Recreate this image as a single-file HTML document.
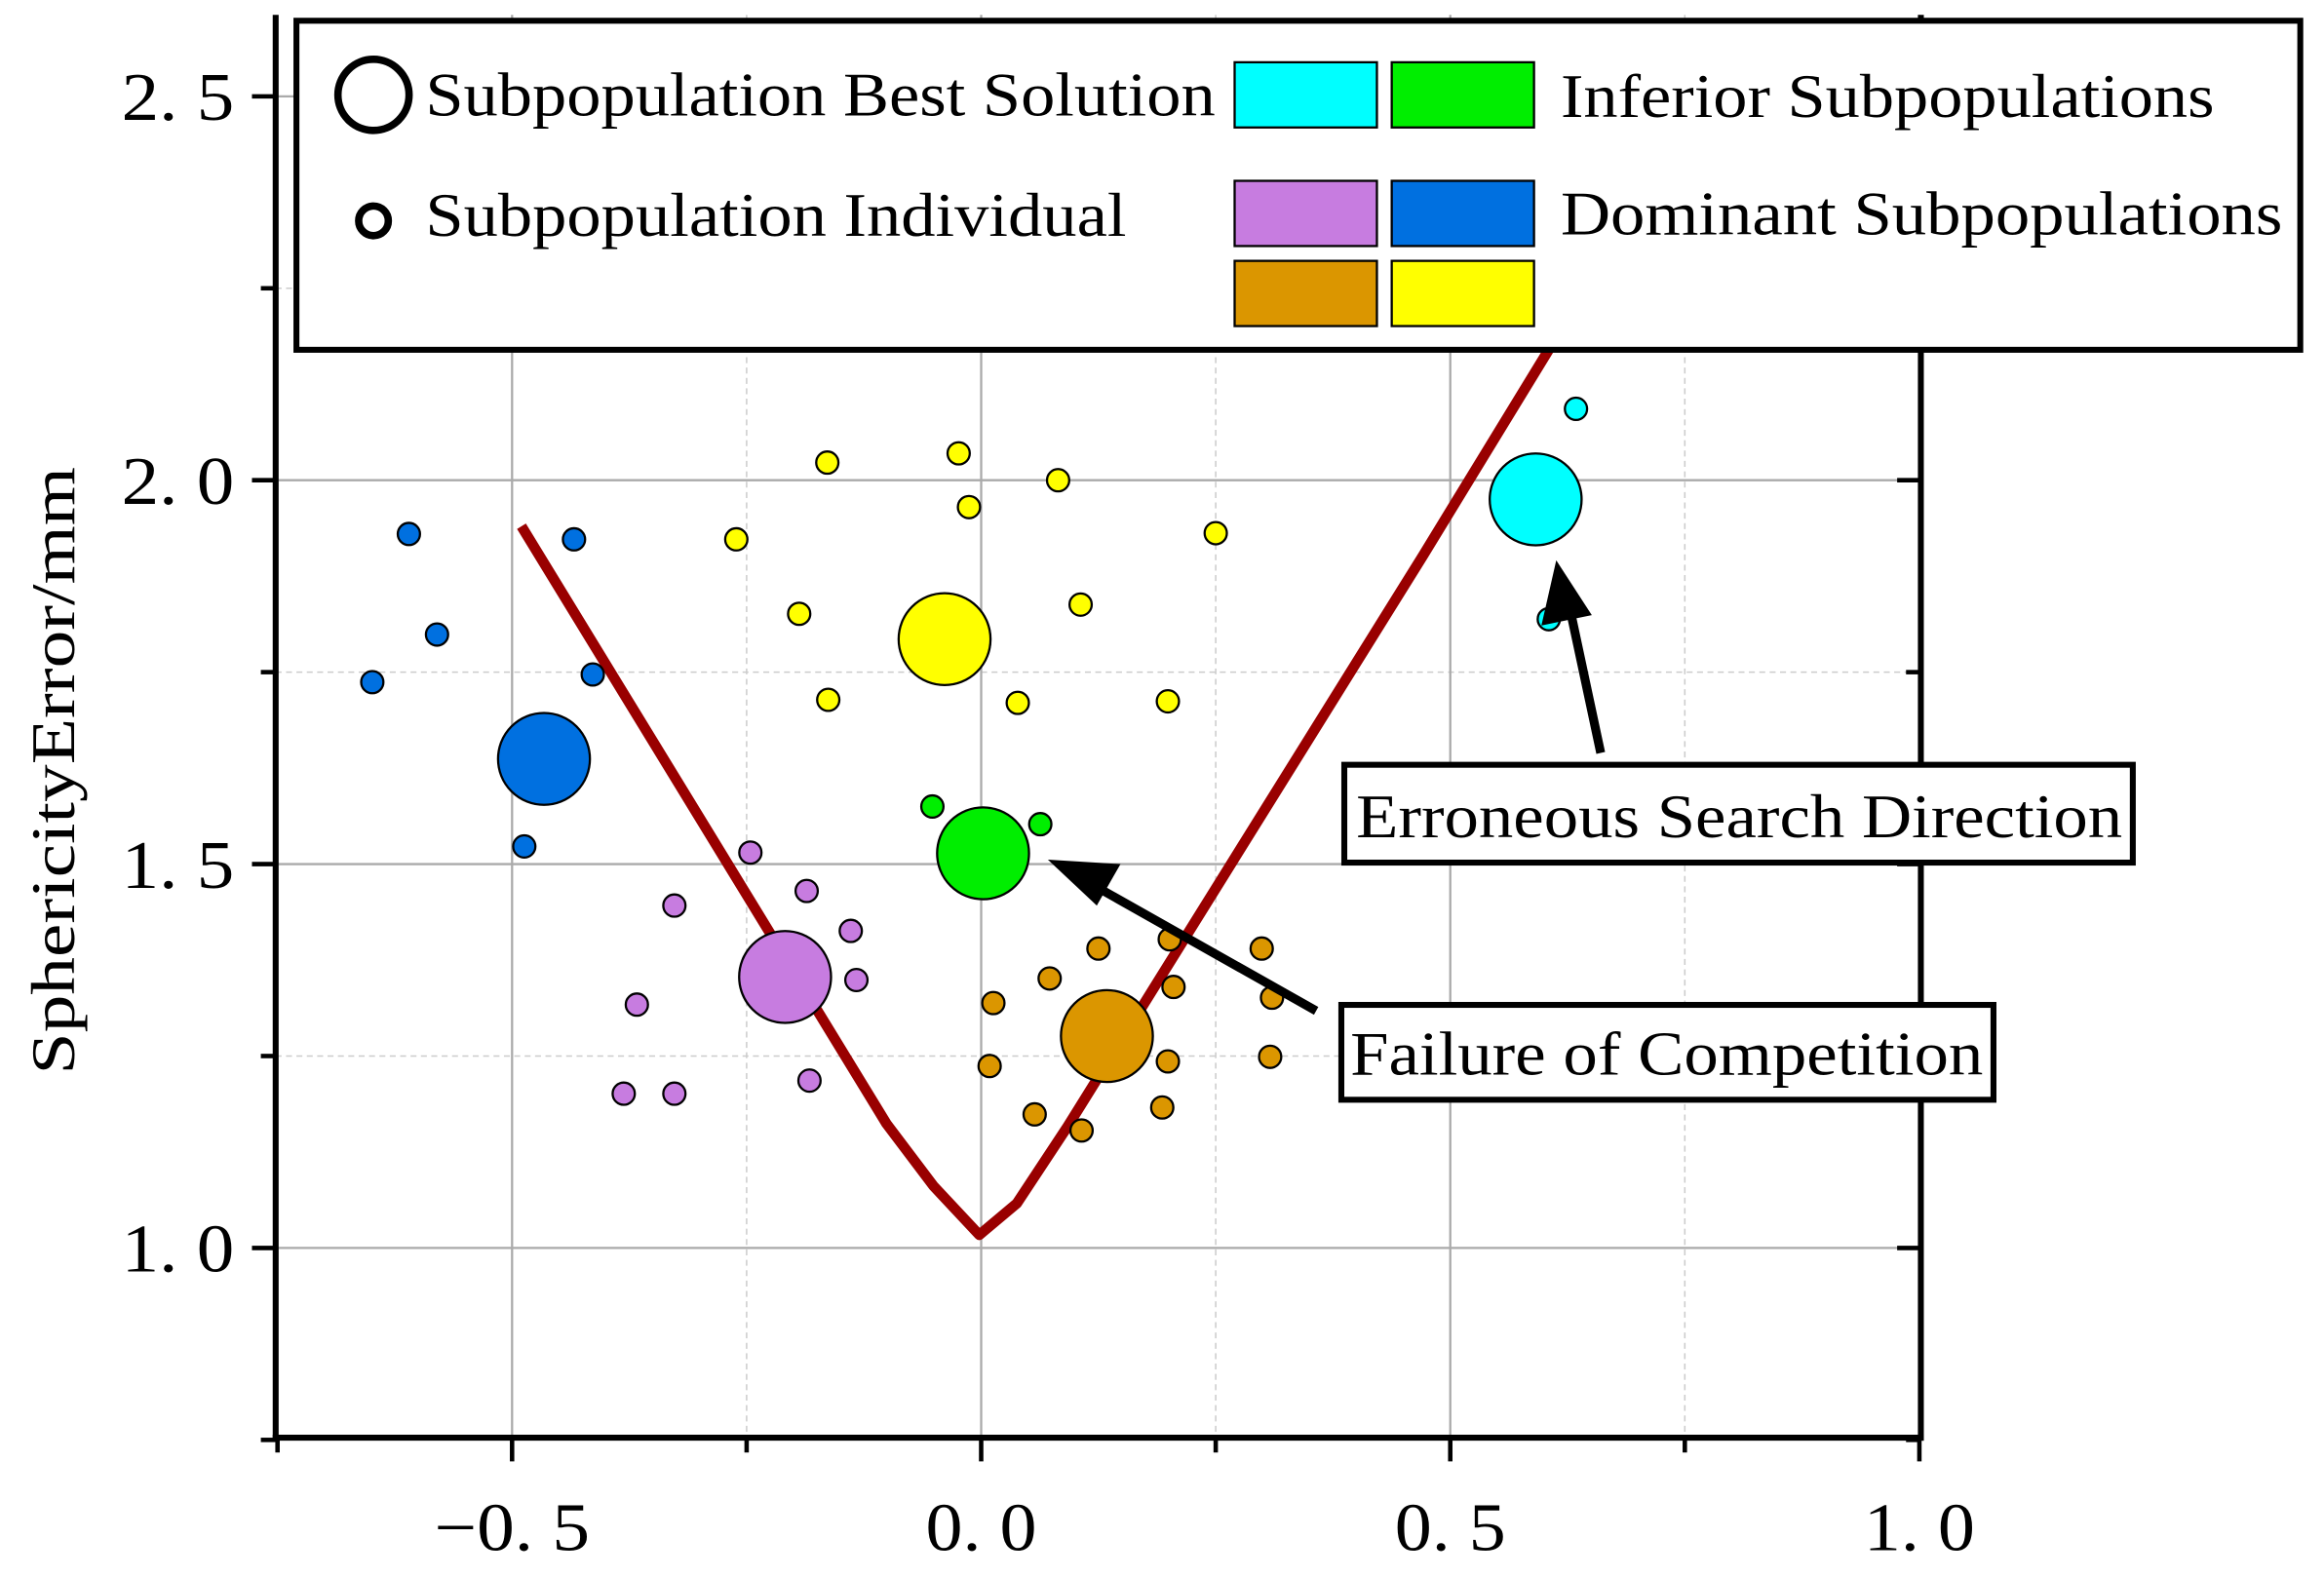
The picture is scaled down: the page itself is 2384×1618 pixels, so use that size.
<!DOCTYPE html>
<html><head><meta charset="utf-8"><style>
html,body{margin:0;padding:0;background:#fff;}
svg{display:block;}
text{font-family:"Liberation Serif",serif;fill:#000;}
</style></head><body>
<svg id="chart" width="2384" height="1618" viewBox="0 0 1568 1064" preserveAspectRatio="none" xmlns="http://www.w3.org/2000/svg">
<g id="grid"></g>
<g id="axes"></g>
<g id="marks"></g>
<g id="legend">
  <rect x="200" y="14" width="1352" height="222" fill="#fff" stroke="#000" stroke-width="4"/>
  <circle cx="252" cy="64" r="24" fill="#fff" stroke="#000" stroke-width="5"/>
  <text x="287" y="78" font-size="42" textLength="533" lengthAdjust="spacingAndGlyphs">Subpopulation Best Solution</text>
  <circle cx="252" cy="149" r="10" fill="#fff" stroke="#000" stroke-width="5"/>
  <text x="287" y="159" font-size="42" textLength="473" lengthAdjust="spacingAndGlyphs">Subpopulation Individual</text>
  <rect x="833" y="42" width="96" height="44" fill="#00FFFF" stroke="#000" stroke-width="1.5"/>
  <rect x="939" y="42" width="96" height="44" fill="#00EE00" stroke="#000" stroke-width="1.5"/>
  <text x="1053" y="79" font-size="42" textLength="441" lengthAdjust="spacingAndGlyphs">Inferior Subpopulations</text>
  <rect x="833" y="122" width="96" height="44" fill="#C77CE0" stroke="#000" stroke-width="1.5"/>
  <rect x="939" y="122" width="96" height="44" fill="#0070E0" stroke="#000" stroke-width="1.5"/>
  <text x="1053" y="158" font-size="42" textLength="487" lengthAdjust="spacingAndGlyphs">Dominant Subpopulations</text>
  <rect x="833" y="176" width="96" height="44" fill="#DB9600" stroke="#000" stroke-width="1.5"/>
  <rect x="939" y="176" width="96" height="44" fill="#FFFF00" stroke="#000" stroke-width="1.5"/>
</g>
<g id="annotations">
  <line x1="1080" y1="508" x2="1058" y2="405" stroke="#000" stroke-width="6"/>
  <polygon points="1050,378 1040,422 1074,415" fill="#000"/>
  <rect x="907" y="516" width="532" height="66" fill="#fff" stroke="#000" stroke-width="4"/>
  <text x="915" y="565" font-size="42" textLength="517" lengthAdjust="spacingAndGlyphs">Erroneous Search Direction</text>
  <line x1="888" y1="682" x2="732" y2="594" stroke="#000" stroke-width="6"/>
  <polygon points="707,580 740,611 756,583" fill="#000"/>
  <rect x="905" y="678" width="440" height="64" fill="#fff" stroke="#000" stroke-width="4"/>
  <text x="911" y="725" font-size="42" textLength="427" lengthAdjust="spacingAndGlyphs">Failure of Competition</text>
</g>
<text x="0" y="0" font-size="42" text-anchor="middle" textLength="410" lengthAdjust="spacingAndGlyphs" transform="translate(50,520) rotate(-90)">SphericityError/mm</text>
<script>
var xTicks=[-0.5,0.0,0.5,1.0];
var xTickLabels=["\u22120. 5","0. 0","0. 5","1. 0"];
var yTicks=[1.0,1.5,2.0,2.5];
var yTickLabels=["1. 0","1. 5","2. 0","2. 5"];
var lineX=[-0.490,-0.101,-0.051,-0.002,0.038,0.092,0.471,0.605];
var lineY=[1.940,1.162,1.081,1.017,1.058,1.158,1.902,2.170];
var groupNames=["blue","yellow","green","purple","orange","cyan"];
var groupColors=["#0070E0","#FFFF00","#00EE00","#C77CE0","#DB9600","#00FFFF"];
var bestX=[-0.466,-0.039,0.002,-0.209,0.134,0.591];
var bestY=[1.637,1.793,1.514,1.353,1.276,1.975];
var blueX=[-0.610,-0.434,-0.580,-0.649,-0.414,-0.487];
var blueY=[1.930,1.923,1.799,1.737,1.747,1.523];
var yellowX=[-0.164,-0.024,0.082,-0.013,-0.261,0.250,-0.194,0.106,-0.163,0.039,0.199];
var yellowY=[2.023,2.035,2.000,1.965,1.923,1.931,1.826,1.838,1.714,1.710,1.712];
var greenX=[-0.052,0.063];
var greenY=[1.575,1.552];
var purpleX=[-0.246,-0.186,-0.327,-0.139,-0.133,-0.367,-0.381,-0.327,-0.183];
var purpleY=[1.515,1.465,1.446,1.413,1.349,1.317,1.201,1.201,1.218];
var orangeX=[0.201,0.125,0.299,0.073,0.205,0.013,0.310,0.009,0.199,0.308,0.057,0.193,0.107];
var orangeY=[1.402,1.390,1.390,1.351,1.340,1.319,1.326,1.237,1.243,1.249,1.174,1.183,1.153];
var cyanX=[0.634,0.605];
var cyanY=[2.093,1.819];

var NS="http://www.w3.org/2000/svg";
function sx(v){return 662+v*633;}
function sy(v){return 842-(v-1)*518;}
function mk(tag,attrs,parent){var e=document.createElementNS(NS,tag);for(var k in attrs)e.setAttribute(k,attrs[k]);parent.appendChild(e);return e;}
var grid=document.getElementById('grid'),axes=document.getElementById('axes'),marks=document.getElementById('marks');
var L=186,R=1296,B=970,T=10;
[-0.25,0.25,0.75].forEach(function(v){var e=mk('line',{x1:sx(v),x2:sx(v),y1:T,y2:B,stroke:'#ccc','stroke-width':1,'stroke-dasharray':'4,3'},grid);

});
[1.25,1.75,2.25].forEach(function(v){var e=mk('line',{x1:L,x2:R,y1:sy(v),y2:sy(v),stroke:'#ccc','stroke-width':1,'stroke-dasharray':'4,3'},grid);

});
xTicks.forEach(function(v){var e=mk('line',{x1:sx(v),x2:sx(v),y1:T,y2:B,stroke:'#aaa','stroke-width':1.5},grid);

});
yTicks.forEach(function(v){var e=mk('line',{x1:L,x2:R,y1:sy(v),y2:sy(v),stroke:'#aaa','stroke-width':1.5},grid);

});
mk('line',{x1:L,x2:L,y1:T,y2:B+2,stroke:'#000','stroke-width':4},axes);
mk('line',{x1:L-2,x2:R+2,y1:B,y2:B,stroke:'#000','stroke-width':4},axes);
mk('line',{x1:R,x2:R,y1:T,y2:B+2,stroke:'#000','stroke-width':4},axes);
[-0.75,-0.5,-0.25,0,0.25,0.5,0.75,1.0].forEach(function(v){var maj=(Math.abs(v*2-Math.round(v*2))<1e-6);
mk('line',{x1:sx(v),x2:sx(v),y1:B,y2:B+(maj?16:10),stroke:'#000','stroke-width':3},axes);});
[0.75,1.0,1.25,1.5,1.75,2.0,2.25,2.5].forEach(function(v){var maj=(Math.abs(v*2-Math.round(v*2))<1e-6);
mk('line',{x1:L,x2:L-(maj?16:10),y1:sy(v),y2:sy(v),stroke:'#000','stroke-width':3},axes);
mk('line',{x1:R,x2:R-(maj?16:10),y1:sy(v),y2:sy(v),stroke:'#000','stroke-width':3},axes);});
xTicks.forEach(function(v,i){var t=mk('text',{x:sx(v),y:1046,'font-size':46,'text-anchor':'middle',textLength:(v<0?105:75),lengthAdjust:'spacingAndGlyphs'},axes);t.textContent=xTickLabels[i];

});
yTicks.forEach(function(v,i){var t=mk('text',{x:158,y:sy(v)+16,'font-size':46,'text-anchor':'end',textLength:76,lengthAdjust:'spacingAndGlyphs'},axes);t.textContent=yTickLabels[i];

});
var d=lineX.map(function(v,i){return (i?'L':'M')+sx(v)+','+sy(lineY[i]);}).join(' ');
var pl=mk('path',{d:d,fill:'none',stroke:'#990000','stroke-width':7,'stroke-linejoin':'round'},marks);


var gx=[blueX,yellowX,greenX,purpleX,orangeX,cyanX],gy=[blueY,yellowY,greenY,purpleY,orangeY,cyanY];
gx.forEach(function(xs,g){xs.forEach(function(v,i){var c=mk('circle',{cx:sx(v),cy:sy(gy[g][i]),r:7.5,fill:groupColors[g],stroke:'#000','stroke-width':1.5},marks);

});
var b=mk('circle',{cx:sx(bestX[g]),cy:sy(bestY[g]),r:31,fill:groupColors[g],stroke:'#000','stroke-width':1.5},marks);

});
var svg=document.getElementById('chart');
svg.appendChild(document.getElementById('annotations'));
svg.appendChild(document.getElementById('legend'));
</script>
</svg>
</body></html>
